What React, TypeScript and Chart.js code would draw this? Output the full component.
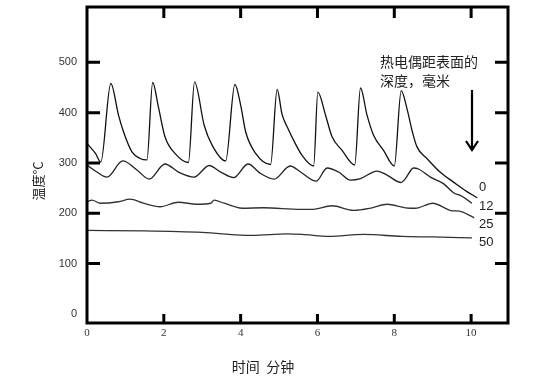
import { useEffect, useRef } from "react";
import { Chart, registerables } from "chart.js";
Chart.register(...registerables);

// Depth 0 mm
const time0 = [0, 0.22, 0.36, 0.62, 0.82, 0.95, 1.17, 1.38, 1.56, 1.71, 1.86, 2.03, 2.29, 2.64, 2.8, 3.05, 3.26, 3.61, 3.85, 4.0, 4.13, 4.39, 4.78, 4.95, 5.08, 5.21, 5.42, 5.6, 5.9, 6.01, 6.21, 6.38, 6.64, 6.97, 7.12, 7.29, 7.46, 7.72, 8.0, 8.18, 8.33, 8.46, 8.59, 8.85, 9.19, 9.54, 9.89, 10.16];
const temp0 = [339, 319, 302, 458, 395, 362, 322, 309, 306, 460, 411, 352, 319, 301, 461, 375, 335, 304, 456, 415, 362, 319, 297, 446, 396, 372, 339, 315, 294, 441, 395, 352, 325, 296, 449, 395, 355, 325, 294, 444, 408, 365, 332, 309, 282, 262, 243, 231];

// Depth 12 mm
const time12 = [0, 0.26, 0.52, 0.93, 1.3, 1.62, 2.03, 2.38, 2.79, 3.18, 3.48, 3.82, 4.19, 4.52, 4.87, 5.29, 5.56, 5.97, 6.25, 6.55, 6.86, 7.12, 7.55, 7.81, 8.18, 8.29, 8.5, 8.63, 8.94, 9.28, 9.54, 9.76, 10.02];
const temp12 = [296, 282, 272, 304, 286, 268, 298, 282, 272, 295, 282, 271, 298, 279, 268, 294, 282, 264, 290, 282, 266, 269, 284, 276, 261, 269, 290, 288, 272, 259, 241, 234, 220];

// Depth 25 mm
const time25 = [0, 0.13, 0.35, 0.82, 1.12, 1.47, 1.9, 2.38, 2.86, 3.22, 3.31, 3.57, 4.04, 4.6, 5.56, 5.86, 6.38, 6.94, 7.42, 7.81, 8.29, 8.55, 9.0, 9.45, 9.76, 10.08];
const temp25 = [223, 226, 220, 223, 228, 220, 213, 222, 218, 220, 226, 220, 210, 211, 208, 208, 215, 206, 211, 218, 211, 210, 220, 206, 203, 191];

// Depth 50 mm
const time50 = [0, 1.5, 3.0, 4.3, 5.2, 5.6, 6.3, 7.2, 8.2, 9.0, 10.02];
const temp50 = [166, 165, 162, 156, 159, 158, 154, 158, 154, 153, 151];

const xTicks = [0, 2, 4, 6, 8, 10];
const yTicks = [0, 100, 200, 300, 400, 500];
const depthLabels = ["0", "12", "25", "50"];
const yTitle = "温度°C";
const xTitle = "时间  分钟";
const noteLines = ["热电偶距表面的", "深度，毫米"];

const pts = (t: number[], v: number[]) => t.map((x, i) => ({ x, y: v[i] }));

const framePlugin = {
  id: "frame",
  afterDraw(chart: any) {
    const ctx = chart.ctx as CanvasRenderingContext2D;
    const { left, right, top, bottom } = chart.chartArea;
    const xs = chart.scales.x;
    const ys = chart.scales.y;
    ctx.save();
    ctx.strokeStyle = "#000";
    ctx.lineWidth = 3;
    ctx.lineCap = "butt";
    ctx.strokeRect(left, top, right - left, bottom - top);
    // inward tick marks
    ctx.beginPath();
    xTicks.forEach((v) => {
      if (v === 0) return;
      const px = xs.getPixelForValue(v);
      ctx.moveTo(px, bottom);
      ctx.lineTo(px, bottom - 9);
      ctx.moveTo(px, top);
      ctx.lineTo(px, top + 11);
    });
    yTicks.forEach((v) => {
      if (v === 0) return;
      const py = ys.getPixelForValue(v);
      ctx.moveTo(left, py);
      ctx.lineTo(left + 13, py);
      ctx.moveTo(right, py);
      ctx.lineTo(right - 13, py);
    });
    ctx.stroke();

    // annotation text
    ctx.fillStyle = "#222";
    ctx.font = '14px "Noto Sans CJK SC"';
    ctx.textAlign = "left";
    ctx.textBaseline = "middle";
    ctx.fillText(noteLines[0], 380, 62);
    ctx.fillText(noteLines[1], 380, 81);

    // arrow
    ctx.lineWidth = 2.2;
    ctx.beginPath();
    ctx.moveTo(472, 90);
    ctx.lineTo(472, 149);
    ctx.moveTo(466, 141);
    ctx.lineTo(472, 150);
    ctx.lineTo(478, 141);
    ctx.stroke();

    // depth labels at line ends
    ctx.font = '13px "Liberation Sans", Arial, sans-serif';
    const lys = [187, 206, 224, 242];
    depthLabels.forEach((s, i) => ctx.fillText(s, 479, lys[i]));

    // axis titles
    ctx.font = '14px "Noto Sans CJK SC"';
    ctx.textAlign = "center";
    ctx.fillText(xTitle, 263, 367);
    ctx.translate(38, 181);
    ctx.rotate(-Math.PI / 2);
    ctx.font = '13px "Noto Sans CJK SC"';
    ctx.fillText(yTitle, 0, 0);
    ctx.restore();
  },
};

export default function App() {
  const ref = useRef<HTMLCanvasElement>(null);
  useEffect(() => {
    document.body.style.margin = "0";
    const ds = (t: number[], v: number[], c: string) => ({
      data: pts(t, v),
      borderColor: c,
      borderWidth: 1.3,
      pointRadius: 0,
      fill: false,
      cubicInterpolationMode: "monotone" as const,
    });
    const chart = new Chart(ref.current!, {
      type: "line",
      data: {
        datasets: [
          ds(time0, temp0, "#111"),
          ds(time12, temp12, "#222"),
          ds(time25, temp25, "#333"),
          ds(time50, temp50, "#333"),
        ],
      },
      options: {
        animation: false,
        responsive: false,
        layout: { padding: { left: 0, top: 7, right: 42, bottom: 0 } },
        plugins: { legend: { display: false }, tooltip: { enabled: false } },
        scales: {
          x: {
            type: "linear",
            min: 0,
            max: 10.96,
            grid: { display: false, drawTicks: false },
            border: { display: false },
            afterBuildTicks: (s: any) => {
              s.ticks = xTicks.map((v) => ({ value: v }));
            },
            afterFit: (s: any) => {
              s.height = 55;
              s.paddingLeft = 0;
              s.paddingRight = 0;
            },
            ticks: {
              padding: 4,
              color: "#333",
              font: { family: '"Liberation Serif", "Times New Roman", serif', size: 11 },
              maxRotation: 0,
            },
          },
          y: {
            type: "linear",
            min: -18,
            max: 610,
            grid: { display: false, drawTicks: false },
            border: { display: false },
            afterBuildTicks: (s: any) => {
              s.ticks = yTicks.map((v) => ({ value: v }));
            },
            afterFit: (s: any) => {
              s.width = 87;
              s.paddingTop = 0;
              s.paddingBottom = 0;
            },
            ticks: {
              padding: 10,
              color: "#333",
              font: { family: '"Liberation Sans", Arial, sans-serif', size: 11 },
            },
          },
        },
      },
      plugins: [framePlugin],
    });
    return () => chart.destroy();
  }, []);
  return (
    <div style={{ position: "fixed", left: 0, top: 0, width: 550, height: 378, background: "#fff" }}>
      <canvas ref={ref} width={550} height={378} />
    </div>
  );
}
